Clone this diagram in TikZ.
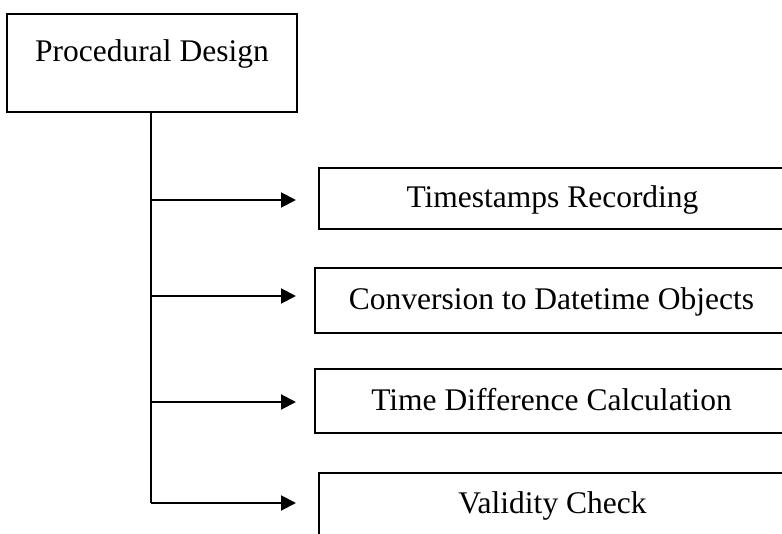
\documentclass[tikz,border=0pt]{standalone}
\usepackage{fontspec}
\setmainfont{Liberation Serif}
\usetikzlibrary{arrows.meta}
\begin{document}
\begin{tikzpicture}[x=1pt,y=-1pt,
  box/.style={draw,line width=2pt,rectangle,inner sep=0pt,
    font=\fontsize{31.5}{36}\selectfont,text height=21pt,text depth=2pt},
  topbox/.style={box,minimum width=290pt,minimum height=98pt,text height=21pt,text depth=23pt},
  subbox/.style={box,minimum width=481pt},
  link/.style={line width=2pt},
  arrowlink/.style={link,-{Triangle[length=15pt,width=15pt]}}]
\useasboundingbox (0,0) rectangle (782,534);
\clip (0,0) rectangle (782,534);
\node[topbox] (top) at (152,63) {Procedural Design};
\node[subbox,minimum height=61pt] (b1) at (559.5,198.5) {\hspace*{-14pt}Timestamps Recording};
\node[subbox,minimum height=65pt] (b2) at (555.5,300.5) {\hspace*{-8pt}Conversion to Datetime Objects};
\node[subbox,minimum height=64pt] (b3) at (555.5,401) {\hspace*{-8pt}Time Difference Calculation};
\node[subbox,minimum height=80pt,text height=21pt,text depth=21pt] (b4) at (559.5,513) {\hspace*{-14pt}Validity Check};
\coordinate (t1) at (296,200);
\coordinate (t2) at (296,296);
\coordinate (t3) at (296,402);
\coordinate (t4) at (296,503);
\draw[link] ([xshift=-1pt]top.south) -- ([xshift=-1pt]top.south |- t4);
\foreach \i in {1,2,3,4}{
  \draw[arrowlink] ([xshift=-1pt]top.south |- t\i) -- (t\i);
}
\end{tikzpicture}
\end{document}
